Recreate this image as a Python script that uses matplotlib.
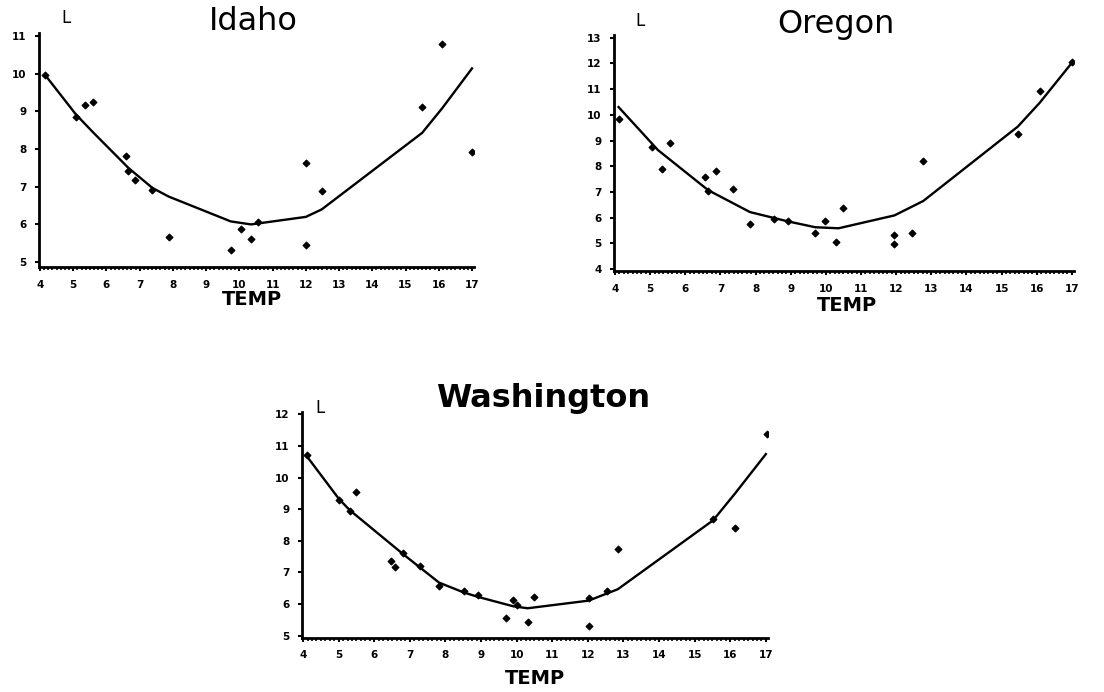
import numpy as np
import matplotlib.pyplot as plt
from matplotlib.ticker import MultipleLocator

# Idaho
idaho_x = [4.15, 5.08, 5.35, 5.59, 6.58, 6.66, 6.86, 7.38, 7.87, 9.74,
           10.04, 10.35, 10.55, 12.0, 12.0, 12.48, 15.5, 16.1, 17.0]
idaho_y = [9.96, 8.84, 9.17, 9.25, 7.82, 7.41, 7.17, 6.92, 5.66, 5.31,
           5.87, 5.62, 6.06, 7.63, 5.46, 6.89, 9.12, 10.8, 7.91]
idaho_fit_x = [4.15, 5.08, 5.59, 6.66, 7.38, 7.87, 9.74, 10.35, 12.0, 12.48, 15.5, 16.1, 17.0]
idaho_fit_y = [9.97, 8.92, 8.45, 7.5, 6.97, 6.74, 6.08, 6.0, 6.2, 6.4, 8.43, 9.08, 10.14]

# Oregon
oregon_x = [4.10, 5.06, 5.34, 5.56, 6.55, 6.65, 6.87, 7.35, 7.84, 8.53, 8.91,
            9.70, 9.98, 10.29, 10.48, 11.95, 11.95, 12.46, 12.77, 15.46, 16.08, 17.0]
oregon_y = [9.84, 8.76, 7.89, 8.92, 7.59, 7.03, 7.82, 7.13, 5.74, 5.96, 5.89,
            5.41, 5.89, 5.07, 6.39, 5.33, 4.98, 5.41, 8.20, 9.25, 10.94, 12.06]
oregon_fit_x = [4.10, 5.22, 6.65, 7.84, 8.91, 9.70, 10.36, 11.95, 12.77, 15.46, 16.08, 17.0]
oregon_fit_y = [10.3, 8.63, 7.07, 6.22, 5.86, 5.63, 5.59, 6.09, 6.65, 9.54, 10.46, 12.02]

# Washington
wash_x = [4.12, 5.01, 5.31, 5.50, 6.48, 6.59, 6.81, 7.29, 7.82, 8.51, 8.91,
          9.71, 9.91, 10.0, 10.31, 10.50, 12.02, 12.02, 12.53, 12.84, 15.52, 16.13, 17.02]
wash_y = [10.72, 9.28, 8.93, 9.53, 7.37, 7.18, 7.63, 7.21, 6.58, 6.40, 6.29,
          5.56, 6.14, 5.97, 5.42, 6.21, 5.32, 6.18, 6.42, 7.74, 8.68, 8.40, 11.37]
wash_fit_x = [4.12, 5.01, 5.31, 6.81, 7.82, 8.51, 8.91, 9.91, 10.31, 12.02, 12.84, 15.52, 16.13, 17.0]
wash_fit_y = [10.65, 9.32, 8.97, 7.58, 6.68, 6.37, 6.23, 5.93, 5.87, 6.11, 6.47, 8.65, 9.49, 10.74]

x_ticks = list(range(4, 18))

W, H = 1104, 692
fig = plt.figure(figsize=(W / 100, H / 100), dpi=100)
plt.rcParams['font.family'] = ['DejaVu Sans']


def px_axes(left, right, top, bottom):
    return fig.add_axes([left / W, 1 - bottom / H, (right - left) / W, (bottom - top) / H])


def panel(box, xs, ys, fx, fy, ylim, yticks, title, title_pos, l_pos, temp_pos, title_weight='normal'):
    ax = px_axes(*box)
    ax.plot(fx, fy, color='black', lw=1.7)
    ax.scatter(xs, ys, marker='D', s=11, color='black', zorder=3)
    ax.set_xlim(3.97, 17.06)
    ax.set_ylim(*ylim)
    ax.set_xticks(x_ticks)
    ax.set_yticks(yticks)
    ax.xaxis.set_minor_locator(MultipleLocator(0.125))
    for s in ['top', 'right']:
        ax.spines[s].set_visible(False)
    for s in ['left', 'bottom']:
        ax.spines[s].set_linewidth(2)
    ax.tick_params(axis='both', which='major', length=3, width=1.5, labelsize=7.5, pad=6)
    ax.tick_params(axis='x', which='minor', length=2, width=1.2)
    for lab in ax.get_xticklabels() + ax.get_yticklabels():
        lab.set_fontweight('bold')
    fig.text(title_pos[0] / W, 1 - title_pos[1] / H, title, fontsize=23,
             ha='center', va='center', fontweight=title_weight)
    fig.text(l_pos[0] / W, 1 - l_pos[1] / H, 'L', fontsize=12, ha='center', va='center')
    fig.text(temp_pos[0] / W, 1 - temp_pos[1] / H, 'TEMP', fontsize=14,
             ha='center', va='center', fontweight='bold')
    return ax


panel((39, 474, 33, 267), idaho_x, idaho_y, idaho_fit_x, idaho_fit_y,
      (4.87, 11.08), list(range(5, 12)), 'Idaho', (253, 22), (66, 18), (252, 300))
panel((614, 1074, 35, 271), oregon_x, oregon_y, oregon_fit_x, oregon_fit_y,
      (3.93, 13.1), list(range(4, 14)), 'Oregon', (836, 25), (640, 21), (847, 306))
panel((302, 768, 412, 638), wash_x, wash_y, wash_fit_x, wash_fit_y,
      (4.93, 12.07), list(range(5, 13)), 'Washington', (543, 398), (320, 408), (535, 678),
      title_weight='bold')

fig.savefig('out.png', dpi=100)
